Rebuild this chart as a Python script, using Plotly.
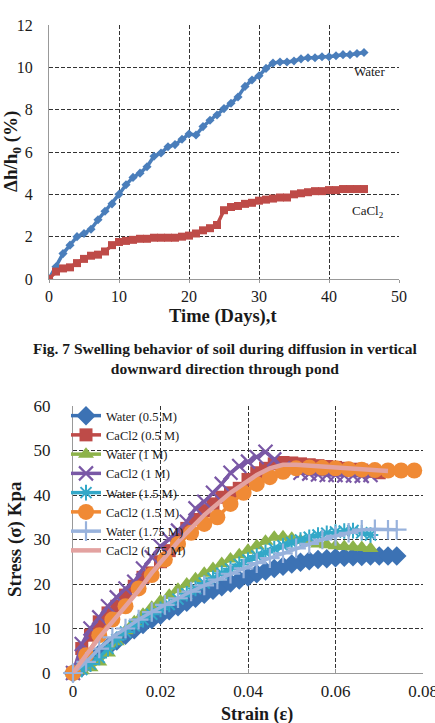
import plotly.graph_objects as go

# ---------------- Top chart data (Fig. 7) ----------------
days = list(range(0, 46))
water_swell = [0, 0.58, 1.2, 1.6, 2.0, 2.15, 2.35, 2.8, 3.2, 3.55, 4.0, 4.45, 4.8, 5.0, 5.3,
               5.8, 5.95, 6.25, 6.35, 6.6, 6.85, 6.8, 7.2, 7.5, 7.75, 8.05, 8.3, 8.6, 9.1, 9.4,
               9.6, 9.95, 10.2, 10.25, 10.25, 10.3, 10.4, 10.45, 10.45, 10.5, 10.5, 10.55, 10.6,
               10.6, 10.65, 10.7]
cacl2_swell = [0, 0.35, 0.5, 0.55, 0.75, 0.95, 1.1, 1.15, 1.3, 1.6, 1.75, 1.8, 1.85, 1.9, 1.9,
               1.95, 1.95, 1.95, 1.95, 2.0, 2.05, 2.15, 2.3, 2.4, 2.55, 3.25, 3.4, 3.45, 3.55,
               3.6, 3.7, 3.75, 3.8, 3.85, 3.85, 4.0, 4.05, 4.1, 4.15, 4.15, 4.2, 4.2, 4.25, 4.25,
               4.25, 4.25]

# ---------------- Bottom chart data (stress-strain) ----------------
strain_w05 = [0, 0.002, 0.004, 0.006, 0.008, 0.010, 0.012, 0.014, 0.016, 0.018, 0.020, 0.022,
              0.024, 0.026, 0.028, 0.030, 0.032, 0.034, 0.036, 0.038, 0.040, 0.042, 0.044,
              0.046, 0.048, 0.050, 0.052, 0.054, 0.056, 0.058, 0.060, 0.062, 0.064, 0.066,
              0.068, 0.070, 0.072, 0.074]
stress_w05 = [0, 1.2, 2.8, 4.3, 5.8, 7.2, 8.5, 9.7, 10.9, 12.0, 13.0, 14.0, 14.9, 15.9, 16.8,
              17.7, 18.6, 19.4, 20.2, 20.9, 21.6, 22.3, 22.9, 23.5, 24.0, 24.5, 24.9, 25.2,
              25.5, 25.7, 25.9, 26.0, 26.1, 26.2, 26.3, 26.3, 26.3, 26.3]

strain_c05 = [0, 0.002, 0.004, 0.006, 0.008, 0.010, 0.012, 0.014, 0.016, 0.018, 0.020, 0.022,
              0.024, 0.026, 0.028, 0.030, 0.032, 0.034, 0.036, 0.038, 0.040, 0.042, 0.044,
              0.046, 0.048, 0.050, 0.052, 0.054, 0.056, 0.058, 0.060, 0.062, 0.064, 0.066,
              0.068, 0.070]
stress_c05 = [0, 5.5, 8.5, 11.5, 13.5, 15, 17.5, 19.5, 21.5, 22.5, 25, 27.5, 30, 32.5, 34.5,
              36.5, 38, 39.5, 40.5, 41.5, 43.5, 45, 46, 47, 47.3, 47.2, 47, 46.8, 46.6, 46.4,
              46.2, 46, 45.8, 45.6, 45.3, 45.0]

strain_w1 = [0, 0.002, 0.004, 0.006, 0.008, 0.010, 0.012, 0.014, 0.016, 0.018, 0.020, 0.022,
             0.024, 0.026, 0.028, 0.030, 0.032, 0.034, 0.036, 0.038, 0.040, 0.042, 0.044,
             0.046, 0.048, 0.050, 0.052, 0.054, 0.056, 0.058, 0.060, 0.062, 0.064, 0.066, 0.068]
stress_w1 = [0, 0.5, 1.2, 2.5, 4.5, 7, 9.5, 11.5, 13.2, 14.8, 16.2, 17.5, 18.8, 20, 21.2, 22.4,
             23.5, 24.6, 25.6, 26.6, 27.6, 28.6, 29.6, 30.5, 30.6, 30.3, 29.8, 29.4, 29.0, 28.8,
             28.6, 28.4, 28.3, 28.2, 28.0]

strain_c1 = [0, 0.002, 0.004, 0.006, 0.008, 0.010, 0.012, 0.014, 0.016, 0.018, 0.020, 0.022,
             0.024, 0.026, 0.028, 0.030, 0.032, 0.034, 0.036, 0.038, 0.040, 0.042, 0.044,
             0.046, 0.048, 0.050, 0.052, 0.054, 0.056, 0.058, 0.060, 0.062, 0.064, 0.066, 0.068]
stress_c1 = [0, 6.5, 10, 12.5, 15, 17, 19, 20.5, 23.5, 26, 28.5, 30, 32, 34, 37, 38.5, 40.5,
             42.5, 45, 46.5, 47.5, 48.5, 49.7, 48, 46, 45.5, 45, 44.8, 44.6, 44.5, 44.5, 44.4,
             44.4, 44.3, 44.5]

strain_w15 = [0, 0.002, 0.004, 0.006, 0.008, 0.010, 0.012, 0.014, 0.016, 0.018, 0.020, 0.022,
              0.024, 0.026, 0.028, 0.030, 0.032, 0.034, 0.036, 0.038, 0.040, 0.042, 0.044,
              0.046, 0.048, 0.050, 0.052, 0.054, 0.056, 0.058, 0.060, 0.062, 0.064, 0.066, 0.068]
stress_w15 = [0, 0.8, 2, 3.5, 5.5, 7.5, 9.2, 10.6, 12, 13.2, 14.3, 15.4, 16.6, 17.8, 19.0, 20.2,
              21.3, 22.4, 23.4, 24.4, 25.4, 26.3, 27.1, 27.9, 28.6, 29.3, 29.9, 30.5, 31.0, 31.4,
              31.7, 31.9, 32.0, 31.5, 31.0]

strain_c15 = [0, 0.003, 0.006, 0.009, 0.012, 0.015, 0.018, 0.021, 0.024, 0.027, 0.030, 0.033,
              0.036, 0.039, 0.042, 0.045, 0.048, 0.051, 0.054, 0.057, 0.060, 0.063, 0.066,
              0.069, 0.072, 0.075, 0.078]
stress_c15 = [0, 4, 8.5, 12, 15, 19, 22, 25.5, 29, 31.5, 33.5, 35, 38, 40.5, 42.5, 44, 45.2, 46,
              46.2, 46.1, 46, 45.8, 45.7, 45.6, 45.5, 45.5, 45.5]

strain_w175 = [0, 0.003, 0.006, 0.009, 0.012, 0.015, 0.018, 0.021, 0.024, 0.027, 0.030, 0.033,
               0.036, 0.039, 0.042, 0.045, 0.048, 0.051, 0.054, 0.057, 0.060, 0.063, 0.066,
               0.069, 0.072, 0.074]
stress_w175 = [0, 2.5, 5.5, 8, 10, 12, 13.7, 15.3, 16.8, 18.3, 19.7, 21, 22.3, 23.5, 24.7, 25.8,
               26.9, 28, 29, 30, 30.8, 31.5, 32.2, 32.3, 32.2, 32.2]

strain_c175 = [0, 0.003, 0.006, 0.009, 0.012, 0.015, 0.018, 0.021, 0.024, 0.027, 0.030, 0.033,
               0.036, 0.039, 0.042, 0.045, 0.048, 0.051, 0.054, 0.057, 0.060, 0.063, 0.066,
               0.069, 0.072]
stress_c175 = [0, 4, 8, 11.5, 15, 18.5, 22.5, 26, 29.5, 32.5, 35.5, 38, 40.5, 42.5, 44.5, 46,
               46.8, 46.8, 46.6, 46.4, 46.2, 46, 45.8, 45.6, 45.4]

series_names = ["Water (0.5 M)", "CaCl2 (0.5 M)", "Water (1 M)", "CaCl2 (1 M)",
                "Water (1.5 M)", "CaCl2 (1.5 M)", "Water (1.75 M)", "CaCl2 (1.75 M)"]

W, H = 435, 723
SERIF = "Liberation Serif"
INK = "#1a1a1a"

def dx(a, b):
    return [a / W, b / W]

def dy(top, bottom):
    return [1 - bottom / H, 1 - top / H]

fig = go.Figure()

# ---- top chart traces ----
fig.add_trace(go.Scatter(x=days, y=water_swell, mode="lines+markers", xaxis="x", yaxis="y",
                         line=dict(color="#4A7EBB", width=3.5),
                         marker=dict(symbol="diamond", size=7, color="#4A7EBB"),
                         showlegend=False))
fig.add_trace(go.Scatter(x=days, y=cacl2_swell, mode="lines+markers", xaxis="x", yaxis="y",
                         line=dict(color="#BE4B48", width=3.5),
                         marker=dict(symbol="square", size=8, color="#BE4B48"),
                         showlegend=False))

# ---- bottom chart traces ----
specs = [
    (strain_w05, stress_w05, "#3C72B4", dict(symbol="diamond", size=15)),
    (strain_c05, stress_c05, "#BE4B48", dict(symbol="square", size=13)),
    (strain_w1, stress_w1, "#8DB34A", dict(symbol="triangle-up", size=14)),
    (strain_c1, stress_c1, "#7A58A6", dict(symbol="x-thin-open", size=14, line=dict(width=2.2, color="#7A58A6"))),
    (strain_w15, stress_w15, "#33A8C8", dict(symbol="asterisk-open", size=13, line=dict(width=2, color="#33A8C8"))),
    (strain_c15, stress_c15, "#F08A35", dict(symbol="circle", size=16)),
    (strain_w175, stress_w175, "#98B2DC", dict(symbol="cross-thin-open", size=14, line=dict(width=2.2, color="#98B2DC"))),
    (strain_c175, stress_c175, "#E3A2A0", None),
]
for (xs, ys, col, mk), name in zip(specs, series_names):
    if mk is None:
        tr = go.Scatter(x=xs, y=ys, mode="lines", name=name, xaxis="x2", yaxis="y2",
                        line=dict(color=col, width=4.5), cliponaxis=False)
    else:
        m = dict(mk)
        m.setdefault("color", col)
        tr = go.Scatter(x=xs, y=ys, mode="lines+markers", name=name, xaxis="x2", yaxis="y2",
                        line=dict(color=col, width=3.5), marker=m, cliponaxis=False)
    fig.add_trace(tr)

def ax(**kw):
    base = dict(showgrid=True, gridcolor="#333333", griddash="4px,2px", gridwidth=1,
                showline=True, linecolor="#999999", linewidth=1, zeroline=False,
                automargin=False, layer="below traces", ticklabeloverflow="allow")
    base.update(kw)
    return base

fig.update_layout(
    template="none",
    width=W, height=H, margin=dict(l=0, r=0, t=0, b=0, pad=0), autosize=False,
    paper_bgcolor="white", plot_bgcolor="white",
    font=dict(family=SERIF, color=INK),
    showlegend=True,
    xaxis=ax(domain=dx(49, 399), range=[0, 50], tickmode="linear", tick0=0, dtick=10, anchor="y",
             ticks="outside", ticklen=3, tickcolor="#999999",
             tickfont=dict(family=SERIF, size=16, color=INK), ticklabelstandoff=0),
    yaxis=ax(domain=dy(25, 279), range=[0, 12], tickmode="linear", tick0=0, dtick=2, anchor="x",
             ticks="", tickfont=dict(family=SERIF, size=16, color=INK), ticklabelstandoff=12),
    xaxis2=ax(domain=dx(73, 423), range=[0, 0.08], tickmode="linear", tick0=0, dtick=0.02,
              anchor="y2", tickformat="~g", ticks="inside", ticklen=4, tickcolor="#999999",
              tickfont=dict(family=SERIF, size=17, color=INK), ticklabelstandoff=3),
    yaxis2=ax(domain=dy(406, 673), range=[0, 60], tickmode="linear", tick0=0, dtick=10,
              anchor="x2", ticks="",
              tickfont=dict(family=SERIF, size=17, color=INK), ticklabelstandoff=18),
    legend=dict(x=66 / W, y=1 - 401 / H, xanchor="left", yanchor="top",
                bgcolor="rgba(0,0,0,0)", borderwidth=0,
                font=dict(family=SERIF, size=12.5, color=INK),
                tracegroupgap=0, itemwidth=30),
    annotations=[
        dict(text="Water", x=43.3, y=9.8, xref="x", yref="y", xanchor="left", yanchor="middle",
             showarrow=False, font=dict(family=SERIF, size=13, color=INK)),
        dict(text="CaCl<sub>2</sub>", x=43.0, y=3.2, xref="x", yref="y", xanchor="left",
             yanchor="middle", showarrow=False, font=dict(family=SERIF, size=13, color=INK)),
        dict(text="<b>Δh/h<sub>0</sub> (%)</b>", x=12 / W, y=1 - 152 / H, xref="paper",
             yref="paper", xanchor="center", yanchor="middle", textangle=-90, showarrow=False,
             font=dict(family=SERIF, size=19, color=INK)),
        dict(text="<b>Time (Days),t</b>", x=223 / W, y=1 - 316 / H, xref="paper",
             yref="paper", xanchor="center", yanchor="middle", showarrow=False,
             font=dict(family=SERIF, size=18.5, color=INK)),
        dict(text="<b>Fig. 7 Swelling behavior of soil during diffusion in vertical</b><br>"
                  "<b>downward direction through pond</b>",
             x=226 / W, y=1 - 358 / H, xref="paper", yref="paper", xanchor="center",
             yanchor="middle", showarrow=False,
             font=dict(family=SERIF, size=15.5, color=INK)),
        dict(text="<b>Stress (σ) Kpa</b>", x=15 / W, y=1 - 539 / H, xref="paper",
             yref="paper", xanchor="center", yanchor="middle", textangle=-90, showarrow=False,
             font=dict(family=SERIF, size=19, color=INK)),
        dict(text="<b>Strain (ε)</b>", x=257 / W, y=1 - 714 / H, xref="paper",
             yref="paper", xanchor="center", yanchor="middle", showarrow=False,
             font=dict(family=SERIF, size=18, color=INK)),
    ],
)

fig.write_html("out.html")
